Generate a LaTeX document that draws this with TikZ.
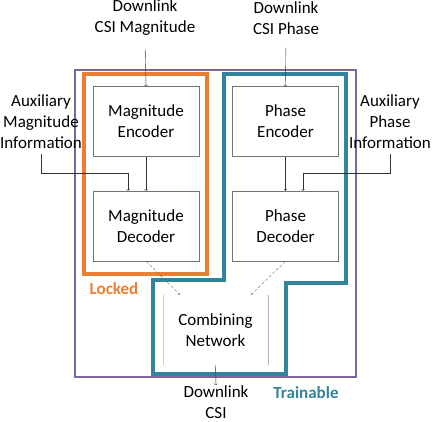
\documentclass[tikz,border=0pt]{standalone}
\usepackage{fontspec}
\setmainfont{Carlito}
\definecolor{lockorange}{RGB}{237,125,49}
\definecolor{trainteal}{RGB}{49,133,155}
\definecolor{framepurple}{RGB}{128,100,162}
\tikzset{
  blockbox/.style={draw=black!55, minimum width=106pt, minimum height=70pt, align=center, inner sep=0pt},
  txt/.style={align=center, inner sep=0pt},
  feed/.style={-to, black!80, thin},
  skip/.style={-to, black!60, thin, densely dashed}
}

\begin{document}
\begin{tikzpicture}[x=1pt, y=-1pt, font=\fontsize{17}{21}\selectfont]
    \useasboundingbox (0,0) rectangle (432,422);

    % frames
    \draw[framepurple, line width=2.5pt] (75,70) rectangle (356,377);
    \draw[lockorange, line width=3.5pt] (84,74) rectangle (207,274);
    \draw[trainteal, line width=3.5pt] (224,74) -- (346,74) -- (346,283) -- (286,283)
        -- (286,374) -- (153,374) -- (153,280) -- (224,280) -- cycle;

    % blocks
    \node[blockbox] (menc) at (146,121.5) {Magnitude\\Encoder};
    \node[blockbox] (mdec) at (146,226) {Magnitude\\Decoder};
    \node[blockbox] (penc) at (285.5,121.5) {Phase\\Encoder};
    \node[blockbox] (pdec) at (285.5,226) {Phase\\Decoder};
    \node[txt, minimum width=105pt, minimum height=70pt] (comb) at (215.5,330) {Combining\\Network};
    \draw[black!20] (comb.north west) -- (comb.south west);
    \draw[black!30] (comb.north east) -- (comb.south east);

    % texts
    \node[txt] (inmag) at (145,18) {Downlink\\CSI Magnitude};
    \node[txt] (inpha) at (286,18) {Downlink\\CSI Phase};
    \node[txt] (auxmag) at (41,122) {Auxiliary\\Magnitude\\Information};
    \node[txt] (auxpha) at (390,122) {Auxiliary\\Phase\\Information};
    \node[txt] (outcsi) at (216,402) {Downlink\\CSI};
    \node[txt, lockorange, font=\fontsize{17}{21}\selectfont\bfseries] (lock) at (114,289) {Locked};
    \node[txt, trainteal, font=\fontsize{17}{21}\selectfont\bfseries] (train) at (306,393) {Trainable};

    % connectors
    \draw[feed, shorten <=13pt] (inmag.south) -- (menc.north);
    \draw[feed, shorten <=13pt] (inpha.south) -- (penc.north);
    \draw[feed] (menc) -- (mdec);
    \draw[feed] (penc) -- (pdec);
    \draw[feed, shorten <=5pt] (auxmag.south) |- ([xshift=-18pt, yshift=18pt]mdec.north) -- ([xshift=-18pt]mdec.north);
    \draw[feed, shorten <=5pt] (auxpha.south) |- ([xshift=17.5pt, yshift=18pt]pdec.north) -- ([xshift=17.5pt]pdec.north);
    \draw[skip] (mdec.south) -- ([xshift=-35.5pt]comb.north);
    \draw[skip] (pdec.south) -- ([xshift=35.5pt]comb.north);
    \draw[feed] (comb.south) -- (outcsi.north);
\end{tikzpicture}
\end{document}
